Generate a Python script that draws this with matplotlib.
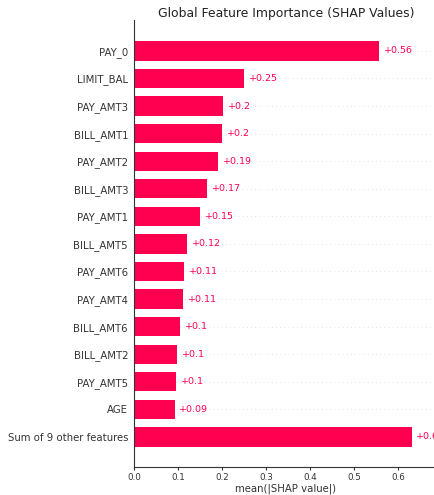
import matplotlib
matplotlib.use("Agg")
import matplotlib.pyplot as plt

features = ["PAY_0", "LIMIT_BAL", "PAY_AMT3", "BILL_AMT1", "PAY_AMT2", "BILL_AMT3",
            "PAY_AMT1", "BILL_AMT5", "PAY_AMT6", "PAY_AMT4", "BILL_AMT6", "BILL_AMT2",
            "PAY_AMT5", "AGE", "Sum of 9 other features"]
mean_abs_shap = [0.557, 0.250, 0.202, 0.200, 0.191, 0.165,
                 0.150, 0.121, 0.114, 0.111, 0.104, 0.098,
                 0.096, 0.092, 0.630]
xticks = [0.0, 0.1, 0.2, 0.3, 0.4, 0.5, 0.6]

RED = "#ff0051"
AXIS = "#333333"


def fmt(v):
    s = "%+0.2f" % v
    if "." in s:
        s = s.rstrip("0").rstrip(".")
    return s


fig = plt.figure(figsize=(4.34, 4.95), dpi=100)
ax = fig.add_axes([134 / 434, 28 / 495, 304 / 434, 447 / 495])

n = len(features)
ypos = list(range(n))
for y in ypos:
    ax.axhline(y, color="#cccccc", lw=0.5, dashes=(1, 5), zorder=-1)

ax.barh(ypos, mean_abs_shap, height=0.7, color=RED, edgecolor=RED, lw=0)
for y, v in zip(ypos, mean_abs_shap):
    ax.text(v + 0.011, y, fmt(v), color=RED, fontsize=6.8,
            ha="left", va="center")

ax.set_yticks(ypos)
ax.set_yticklabels(features, fontsize=7.25, color=AXIS)
ax.set_ylim(n - 1 + 1.09, -1.12)
ax.set_xlim(0, 0.69)
ax.set_xticks(xticks)
ax.set_xticklabels(["%.1f" % t for t in xticks], fontsize=6.3, color=AXIS)
ax.tick_params(axis="y", length=0, pad=4.3)
ax.tick_params(axis="x", color=AXIS, length=2.5, width=0.8, pad=1.5)
ax.set_xlabel("mean(|SHAP value|)", fontsize=7.25, color=AXIS, labelpad=1.5)

for side in ("top", "right"):
    ax.spines[side].set_visible(False)
for side in ("left", "bottom"):
    ax.spines[side].set_color(AXIS)
    ax.spines[side].set_linewidth(0.8)

ax.set_title("Global Feature Importance (SHAP Values)", fontsize=8.9,
             color="#222222", pad=2.5)

fig.savefig("out.png", dpi=100)
